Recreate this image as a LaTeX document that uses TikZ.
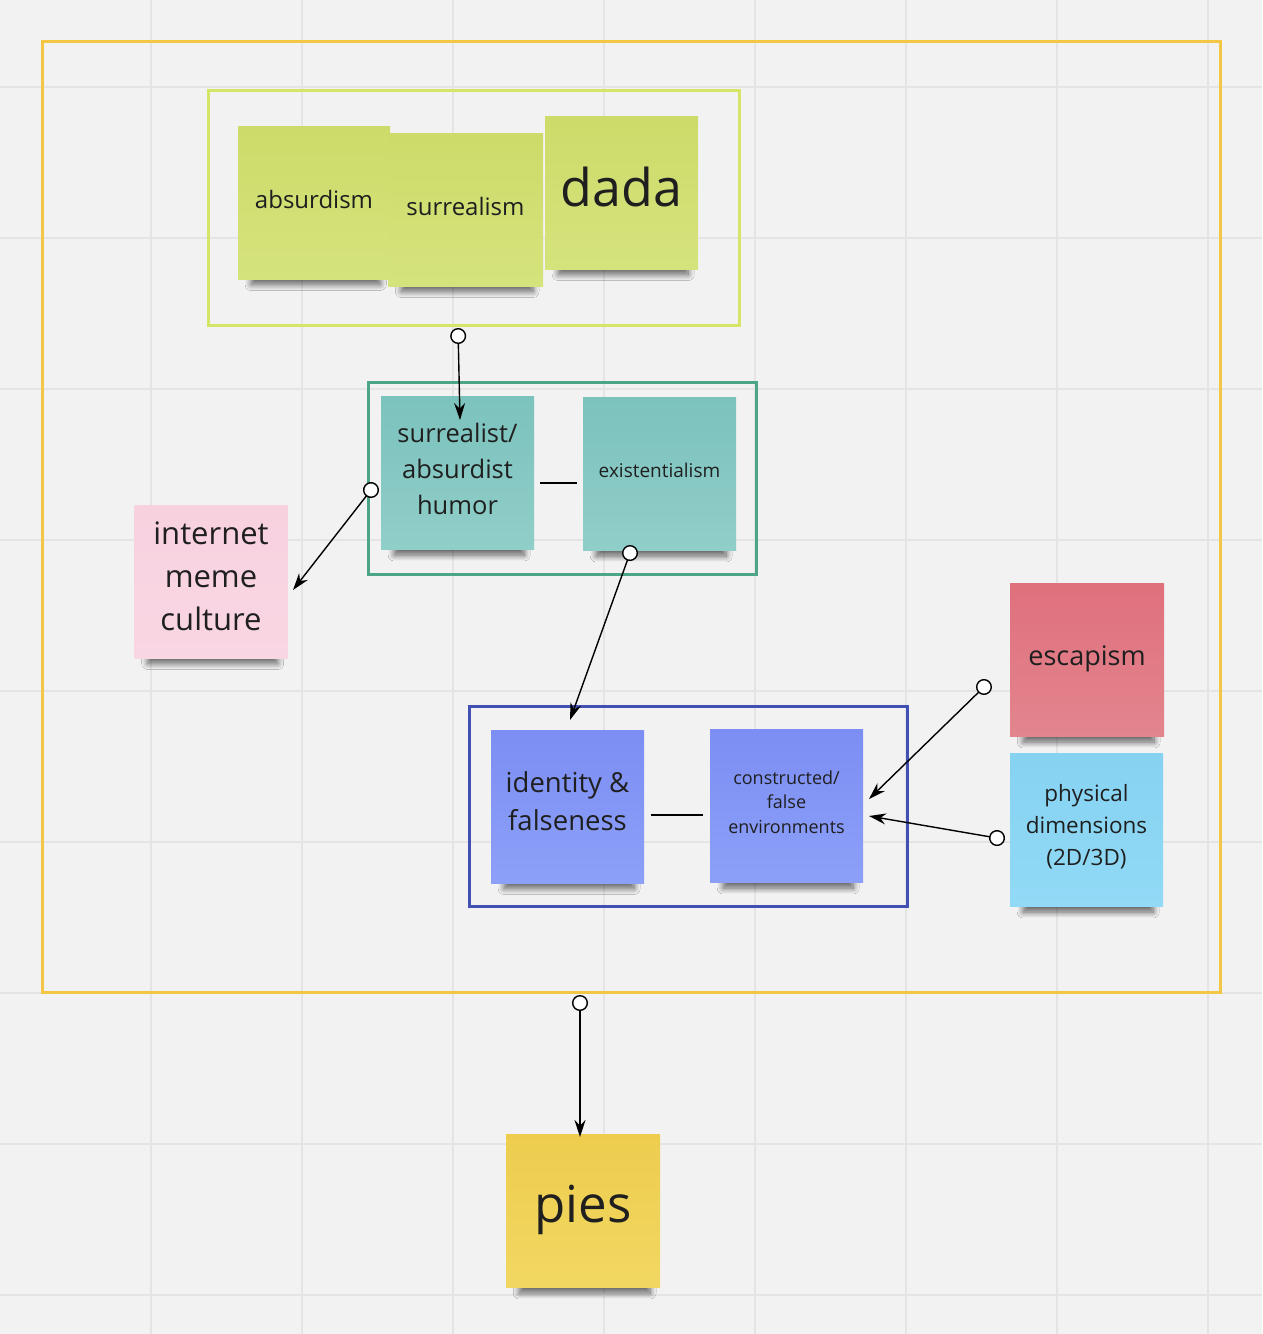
\documentclass[tikz,border=0pt]{standalone}
\usepackage{fontspec}
\setmainfont{Open Sans}
\usetikzlibrary{arrows.meta,shadows.blur,calc}
\definecolor{bg}{HTML}{F2F2F2}
\definecolor{gridc}{HTML}{E4E4E4}
\definecolor{txt}{HTML}{1F1F1F}
\definecolor{fyellow}{HTML}{F3C744}
\definecolor{fgreen}{HTML}{D6E568}
\definecolor{fteal}{HTML}{4CA586}
\definecolor{fblue}{HTML}{4250B4}
\definecolor{limeT}{HTML}{CDDB6A}
\definecolor{limeB}{HTML}{D5E37C}
\definecolor{tealT}{HTML}{7CC2BD}
\definecolor{tealB}{HTML}{90CEC9}
\definecolor{pinkT}{HTML}{F8D1DF}
\definecolor{pinkB}{HTML}{F9D6E3}
\definecolor{blueT}{HTML}{7C8EF3}
\definecolor{blueB}{HTML}{8CA0F8}
\definecolor{redT}{HTML}{DF707C}
\definecolor{redB}{HTML}{E3858E}
\definecolor{skyT}{HTML}{85D2F1}
\definecolor{skyB}{HTML}{92DAF6}
\definecolor{goldT}{HTML}{EECD4E}
\definecolor{goldB}{HTML}{F1D762}
\begin{document}
\begin{tikzpicture}[x=1pt,y=-1pt,
  note/.style={minimum width=153pt, minimum height=153pt, inner sep=0pt,
    blur shadow={shadow xshift=2pt, shadow yshift=-20pt, shadow scale=0.85,
      shadow blur steps=12, shadow opacity=60, shadow blur radius=7pt}},
  lbl/.style={text=txt, align=center, inner sep=0pt},
  frame/.style={line width=3pt},
  conn/.style={line width=1.4pt, {Circle[length=16pt, fill=white]}-{Stealth[length=17pt, width=11pt]}},
  plain/.style={line width=1.4pt},
]
% background and grid
\fill[bg] (0,0) rectangle (1262,1334);
\useasboundingbox (0,0) rectangle (1262,1334);
\foreach \gx in {151,302,453,604,755,906,1057,1208} {\draw[gridc, line width=2pt] (\gx,0) -- (\gx,1334);}
\foreach \gy in {87,238,389,540,691,842,993,1144,1295} {\draw[gridc, line width=2pt] (0,\gy) -- (1262,\gy);}

% frames
\draw[frame, fyellow] (42,41) rectangle (1220,992);
\draw[frame, fgreen] (208,90) rectangle (739,325);
\draw[frame, fteal] (368,382) rectangle (756,574);
\draw[frame, fblue] (469,706) rectangle (907,906);

% stickies
\node[note, top color=limeT, bottom color=limeB, minimum width=152pt,
  label={[lbl, yshift=3pt, font=\fontsize{24}{30}\selectfont]center:absurdism}] (absurd) at (314,202.5) {};
\node[note, top color=limeT, bottom color=limeB, minimum width=155pt,
  label={[lbl, yshift=3pt, font=\fontsize{24}{30}\selectfont]center:surrealism}] (surreal) at (465.5,209.5) {};
\node[note, top color=limeT, bottom color=limeB,
  label={[lbl, yshift=6pt, font=\fontsize{52}{60}\selectfont]center:dada}] (dada) at (621.5,192.5) {};

\node[note, top color=tealT, bottom color=tealB,
  label={[lbl, yshift=4pt, font=\fontsize{25.5}{36}\selectfont]center:{surrealist/\\absurdist\\humor}}] (humor) at (457.5,473) {};
\node[note, top color=tealT, bottom color=tealB,
  label={[lbl, yshift=4pt, font=\fontsize{19}{24}\selectfont]center:existentialism}] (exist) at (659.5,474) {};

\node[note, top color=pinkT, bottom color=pinkB,
  label={[lbl, yshift=5pt, font=\fontsize{31}{43}\selectfont]center:{internet\\meme\\culture}}] (meme) at (211,581.5) {};

\node[note, top color=blueT, bottom color=blueB,
  label={[lbl, yshift=5pt, font=\fontsize{27.5}{38}\selectfont]center:{identity \&\\falseness}}] (ident) at (567.5,806.5) {};
\node[note, top color=blueT, bottom color=blueB,
  label={[lbl, yshift=4pt, font=\fontsize{18}{24.5}\selectfont]center:{constructed/\\false\\environments}}] (constr) at (786.5,806) {};

\node[note, top color=redT, bottom color=redB, minimum width=154pt,
  label={[lbl, yshift=1pt, font=\fontsize{27}{34}\selectfont]center:escapism}] (escap) at (1087,660) {};
\node[note, top color=skyT, bottom color=skyB,
  label={[lbl, yshift=3pt, font=\fontsize{22.5}{32}\selectfont]center:{physical\\dimensions\\(2D/3D)}}] (phys) at (1086.5,830) {};

\node[note, top color=goldT, bottom color=goldB, minimum width=154pt,
  label={[lbl, yshift=1pt, font=\fontsize{51}{60}\selectfont]center:pies}] (pies) at (583,1211) {};

% connector end points
\coordinate (c1s) at (458,328);    \coordinate (c1e) at (460,420);
\coordinate (c2s) at (375.9,483.7); \coordinate (c2e) at (293,590);
\coordinate (c3s) at (632.7,545.5); \coordinate (c3e) at (570,720);
\coordinate (c4s) at (989.7,681.4);  \coordinate (c4e) at (869,799);
\coordinate (c5s) at (1004.9,839.4); \coordinate (c5e) at (869,816);
\coordinate (c6s) at (580,995);    \coordinate (c6e) at (580,1137);
\coordinate (l1s) at (540,483);    \coordinate (l1e) at (577,483);
\coordinate (l2s) at (651,815);    \coordinate (l2e) at (703,815);

\draw[conn] (c1s) -- (c1e);
\draw[conn] (c2s) -- (c2e);
\draw[conn] (c3s) -- (c3e);
\draw[conn] (c4s) -- (c4e);
\draw[conn] (c5s) -- (c5e);
\draw[conn] (c6s) -- (c6e);
\draw[plain] (l1s) -- (l1e);
\draw[plain] (l2s) -- (l2e);
\end{tikzpicture}
\end{document}
